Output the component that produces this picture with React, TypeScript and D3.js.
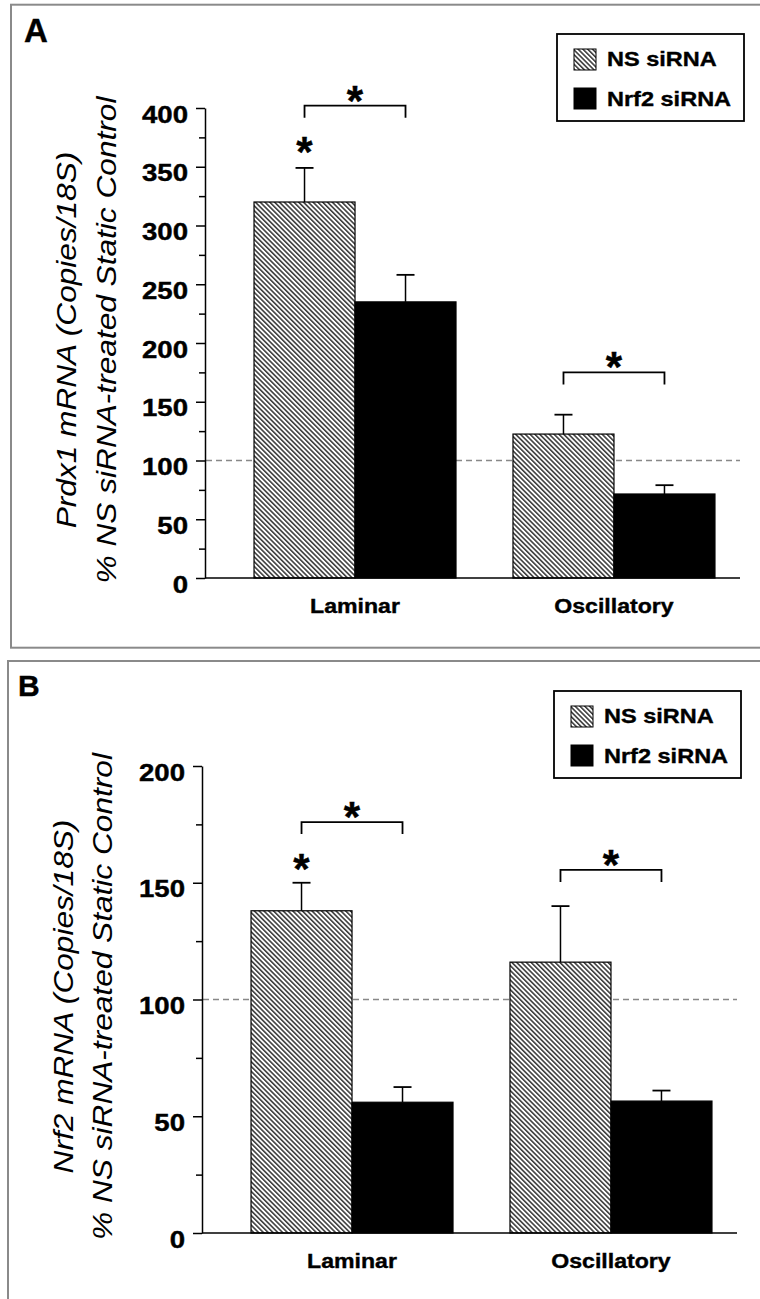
import React, { useEffect, useRef } from "react";
import * as d3 from "d3";

const groups = ["Laminar", "Oscillatory"];
const seriesNames = ["NS siRNA", "Nrf2 siRNA"];

// Panel A - Prdx1
const prdx1NS = [320, 122.5];
const prdx1NSErr = [29, 16.5];
const prdx1Nrf2 = [235, 71.5];
const prdx1Nrf2Err = [23, 7.5];
const prdx1Ticks = [0, 50, 100, 150, 200, 250, 300, 350, 400];
const prdx1Brackets = [402, 175];
const prdx1Stars = [371, null];

// Panel B - Nrf2
const nrf2NS = [138, 116];
const nrf2NSErr = [12, 24];
const nrf2Nrf2 = [56, 56.5];
const nrf2Nrf2Err = [6.5, 4.5];
const nrf2Ticks = [0, 50, 100, 150, 200];
const nrf2Brackets = [176, 155.5];
const nrf2Stars = [160, null];

const FONT = "'Liberation Sans', Arial, sans-serif";

function boldText(sel, size) {
    return sel.style("font-family", FONT).style("font-weight", "bold")
        .style("font-size", size + "px")
        .attr("fill", "#000").attr("stroke", "#000").attr("stroke-width", 0.4);
}

function drawPanel(svg, p) {
    const g = svg.append("g");

    // panel frame
    g.append("rect")
        .attr("x", p.frame[0]).attr("y", p.frame[1])
        .attr("width", 800).attr("height", p.frame[2])
        .attr("fill", "none").attr("stroke", "#8a8a8a").attr("stroke-width", 2);

    boldText(g.append("text")
        .attr("x", p.letterPos[0]).attr("y", p.letterPos[1]), p.letterSize)
        .text(p.letter);

    const yMax = p.ticks[p.ticks.length - 1];
    const y = d3.scaleLinear().domain([0, yMax]).range(p.yRange);
    const x0 = d3.scaleBand().domain(groups)
        .range([p.axisX, p.axisX + 535])
        .paddingInner(0.22).paddingOuter(0.143).align(0.662);
    const x1 = d3.scaleBand().domain(seriesNames).range([0, x0.bandwidth()]);

    // reference line at 100%
    g.append("line")
        .attr("x1", p.axisX + 1).attr("x2", p.axisX + 535)
        .attr("y1", y(100)).attr("y2", y(100))
        .attr("stroke", "#888").attr("stroke-width", 1.5)
        .attr("stroke-dasharray", "6,4");

    const rows = groups.map((grp, i) => ({
        grp,
        vals: [
            { s: seriesNames[0], v: p.ns[i], e: p.nsErr[i] },
            { s: seriesNames[1], v: p.nrf2[i], e: p.nrf2Err[i] },
        ],
    }));

    const grpSel = g.selectAll(".grp").data(rows).join("g")
        .attr("transform", (d) => `translate(${x0(d.grp)},0)`);

    // error bars (upper only)
    grpSel.selectAll(".err").data((d) => d.vals).join("g").each(function (d) {
        const cx = x1(d.s) + x1.bandwidth() / 2;
        const s = d3.select(this);
        s.append("line").attr("x1", cx).attr("x2", cx)
            .attr("y1", y(d.v)).attr("y2", y(d.v + d.e))
            .attr("stroke", "#000").attr("stroke-width", 1.5);
        s.append("line").attr("x1", cx - 9).attr("x2", cx + 9)
            .attr("y1", y(d.v + d.e)).attr("y2", y(d.v + d.e))
            .attr("stroke", "#000").attr("stroke-width", 1.8);
    });

    grpSel.selectAll("rect").data((d) => d.vals).join("rect")
        .attr("x", (d) => x1(d.s))
        .attr("y", (d) => y(d.v))
        .attr("width", x1.bandwidth())
        .attr("height", (d) => y(0) - y(d.v))
        .attr("fill", (d) => (d.s === seriesNames[0] ? "url(#hatch)" : "#000"))
        .attr("stroke", "#000").attr("stroke-width", 1.2);

    // significance brackets and stars
    groups.forEach((grp, i) => {
        const a = x0(grp) + x1(seriesNames[0]) + x1.bandwidth() / 2;
        const b = x0(grp) + x1(seriesNames[1]) + x1.bandwidth() / 2;
        const by = y(p.brackets[i]);
        g.append("path")
            .attr("d", `M${a},${by + 12}V${by}H${b}V${by + 12}`)
            .attr("fill", "none").attr("stroke", "#000").attr("stroke-width", 1.8);
        boldText(g.append("text")
            .attr("x", (a + b) / 2).attr("y", by - 15 + 24)
            .attr("text-anchor", "middle"), 42)
            .text("*");
        if (p.stars[i] != null) {
            boldText(g.append("text")
                .attr("x", a).attr("y", y(p.stars[i]) + 24)
                .attr("text-anchor", "middle"), 42)
                .text("*");
        }
    });

    // axes
    const yAxis = d3.axisLeft(y).tickValues(p.ticks).tickSize(9).tickSizeOuter(0);
    const ax = g.append("g").attr("transform", `translate(${p.axisX},0)`).call(yAxis);
    ax.select(".domain").attr("stroke", "#000").attr("stroke-width", 1.5);
    ax.selectAll(".tick line").attr("stroke", "#000").attr("stroke-width", 1.5);
    boldText(ax.selectAll(".tick text")
        .attr("x", 0).attr("dy", null)
        .attr("transform", "translate(-17,14) scale(1.15,1)")
        .attr("text-anchor", "end"), 24);

    const minor = d3.range(25, yMax, 50);
    const axMinor = g.append("g").attr("transform", `translate(${p.axisX},0)`)
        .call(d3.axisLeft(y).tickValues(minor).tickSize(6).tickSizeOuter(0).tickFormat(() => ""));
    axMinor.select(".domain").remove();
    axMinor.selectAll(".tick line").attr("stroke", "#000").attr("stroke-width", 1.5);

    g.append("line")
        .attr("x1", p.axisX).attr("x2", p.axisX + 535)
        .attr("y1", y(0)).attr("y2", y(0))
        .attr("stroke", "#000").attr("stroke-width", 1.5);

    groups.forEach((grp) => {
        boldText(g.append("text")
            .attr("transform", `translate(${x0(grp) + x0.bandwidth() / 2},${y(0) + 35}) scale(1.1,1)`)
            .attr("text-anchor", "middle"), 21)
            .text(grp);
    });

    // y axis title (two lines)
    const cy = (p.yRange[0] + p.yRange[1]) / 2 - 3;
    p.yTitle.forEach((t, i) => {
        g.append("text")
            .attr("transform", `translate(${p.titleX[i]},${cy}) rotate(-90) scale(1.13,1)`)
            .attr("text-anchor", "middle")
            .style("font-family", FONT).style("font-style", "italic").style("font-size", "28px")
            .text(t);
    });

    // legend
    const [lx, ly] = p.legend;
    const lg = g.append("g").attr("transform", `translate(${lx},${ly})`);
    lg.append("rect").attr("width", 187).attr("height", 87)
        .attr("fill", "#fff").attr("stroke", "#000").attr("stroke-width", 1.8);
    seriesNames.forEach((s, i) => {
        lg.append("rect")
            .attr("x", 17).attr("y", 15 + i * 39)
            .attr("width", 22).attr("height", 21)
            .attr("fill", i === 0 ? "url(#hatch)" : "#000")
            .attr("stroke", "#000").attr("stroke-width", 1);
        boldText(lg.append("text")
            .attr("transform", `translate(50,${32 + i * 40}) scale(1.12,1)`), 21)
            .text(s);
    });
}

function Chart() {
    const svgRef = useRef(null);

    useEffect(() => {
        const svg = d3.select(svgRef.current);
        svg.selectAll("*").remove();

        const defs = svg.append("defs");
        const pat = defs.append("pattern")
            .attr("id", "hatch")
            .attr("patternUnits", "userSpaceOnUse")
            .attr("width", 3.4).attr("height", 3.4)
            .attr("patternTransform", "rotate(-45)");
        pat.append("rect").attr("width", 3.4).attr("height", 3.4).attr("fill", "#fff");
        pat.append("line")
            .attr("x1", 0.8).attr("x2", 0.8).attr("y1", 0).attr("y2", 3.4)
            .attr("stroke", "#222").attr("stroke-width", 1.4);

        drawPanel(svg, {
            frame: [11, 4.7, 643],
            letter: "A", letterPos: [24, 42], letterSize: 33,
            axisX: 205, yRange: [578, 108], ticks: prdx1Ticks,
            ns: prdx1NS, nsErr: prdx1NSErr, nrf2: prdx1Nrf2, nrf2Err: prdx1Nrf2Err,
            brackets: prdx1Brackets, stars: prdx1Stars,
            yTitle: ["Prdx1 mRNA (Copies/18S)", "% NS siRNA-treated Static Control"],
            titleX: [76, 116],
            legend: [557, 34],
        });

        drawPanel(svg, {
            frame: [8, 661, 700],
            letter: "B", letterPos: [18, 696], letterSize: 30,
            axisX: 202, yRange: [1233, 766], ticks: nrf2Ticks,
            ns: nrf2NS, nsErr: nrf2NSErr, nrf2: nrf2Nrf2, nrf2Err: nrf2Nrf2Err,
            brackets: nrf2Brackets, stars: nrf2Stars,
            yTitle: ["Nrf2 mRNA (Copies/18S)", "% NS siRNA-treated Static Control"],
            titleX: [73, 112],
            legend: [554, 691],
        });
    }, []);

    return (
        <div style={{ position: "absolute", left: 0, top: 0 }}>
            <svg ref={svgRef} width={760} height={1299} style={{ display: "block", background: "#fff" }}></svg>
        </div>
    );
}

export default function App() {
    return <Chart />;
}
